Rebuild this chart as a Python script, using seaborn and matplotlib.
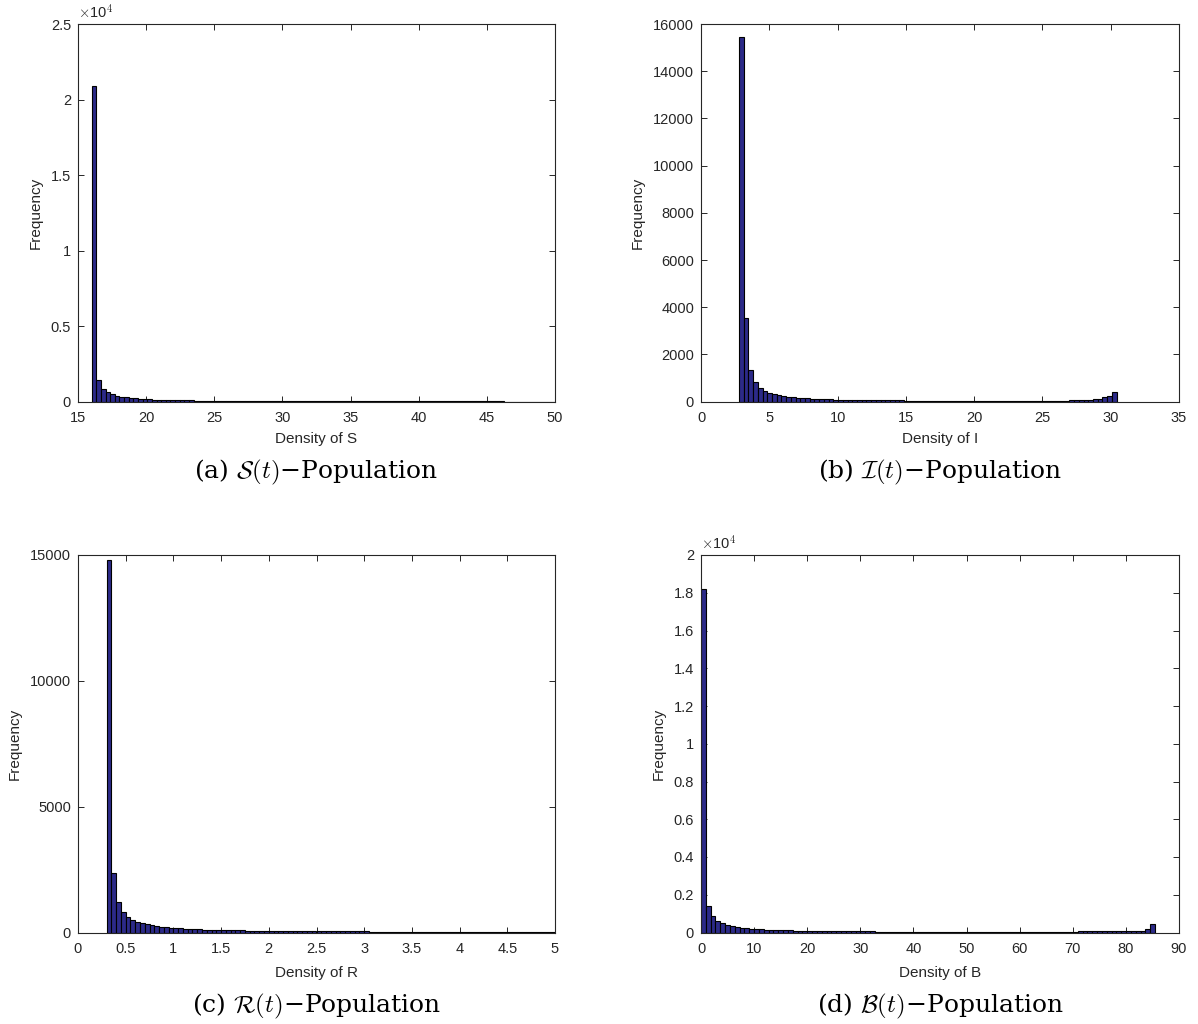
import numpy as np
import pandas as pd
import matplotlib
matplotlib.use("Agg")
import matplotlib.pyplot as plt
from matplotlib.ticker import FuncFormatter
import seaborn as sns

# ---------------- data (bin counts) ----------------
S_range = (16.0, 50.0)
S_counts = [20900, 1430, 830, 620, 490, 400, 335, 285, 248, 218,
            195, 175, 158, 144, 132, 122, 113, 105, 98, 92,
            86, 81, 77, 73, 69, 66, 63, 60, 57, 55,
            53, 51, 49, 47, 45, 44, 42, 41, 40, 38,
            37, 36, 35, 34, 33, 32, 31, 31, 30, 29,
            28, 28, 27, 26, 26, 25, 25, 24, 24, 23,
            23, 22, 22, 21, 21, 21, 20, 20, 19, 19,
            19, 18, 18, 18, 17, 17, 17, 16, 16, 16,
            16, 15, 15, 15, 15, 14, 14, 14, 14, 13,
            13, 13, 13, 13, 12, 12, 12, 12, 12, 11]

I_range = (2.78, 30.43)
I_counts = [15450, 3540, 1360, 830, 590, 455, 370, 312, 268, 233,
            205, 183, 165, 150, 137, 126, 117, 109, 102, 96,
            90, 85, 81, 77, 73, 70, 67, 64, 62, 60,
            58, 56, 54, 52, 51, 49, 48, 47, 46, 45,
            44, 43, 42, 41, 41, 40, 39, 39, 38, 38,
            37, 37, 37, 36, 36, 36, 36, 36, 36, 36,
            37, 37, 38, 38, 39, 40, 42, 44, 46, 49,
            53, 58, 65, 75, 88, 105, 135, 180, 230, 430]

R_range = (0.30, 5.30)
R_counts = [14800, 2365, 1210, 825, 610, 505, 425, 365, 318, 282,
            252, 228, 208, 191, 176, 163, 152, 142, 134, 126,
            119, 113, 107, 102, 97, 93, 89, 85, 82, 79,
            76, 73, 71, 68, 66, 64, 62, 60, 58, 57,
            55, 54, 52, 51, 50, 48, 47, 46, 45, 44,
            43, 42, 41, 40, 40, 39, 38, 37, 37, 36,
            35, 35, 34, 34, 33, 32, 32, 31, 31, 30,
            30, 30, 29, 29, 28, 28, 28, 27, 27, 26,
            26, 26, 25, 25, 25, 25, 24, 24, 24, 23,
            23, 23, 23, 22, 22, 22, 22, 21, 21, 21]

B_range = (0.0, 85.5)
B_counts = [18200, 1430, 850, 620, 500, 410, 345, 295, 258, 228,
            204, 184, 167, 153, 141, 131, 122, 114, 107, 101,
            95, 90, 86, 82, 78, 75, 72, 69, 66, 64,
            62, 60, 58, 56, 54, 53, 51, 50, 49, 48,
            47, 46, 45, 44, 43, 42, 42, 41, 40, 40,
            39, 39, 38, 38, 38, 37, 37, 37, 37, 37,
            37, 37, 37, 37, 37, 38, 38, 38, 39, 39,
            40, 41, 42, 43, 44, 46, 48, 50, 53, 56,
            58, 60, 62, 64, 66, 68, 70, 72, 75, 78,
            85, 105, 180, 445]

x_labels = ["Density of S", "Density of I", "Density of R", "Density of B"]
captions = ["(a) $\\mathcal{S}(t)$\u2212Population",
            "(b) $\\mathcal{I}(t)$\u2212Population",
            "(c) $\\mathcal{R}(t)$\u2212Population",
            "(d) $\\mathcal{B}(t)$\u2212Population"]
x_limits = [(15, 50), (0, 35), (0, 5), (0, 90)]
x_ticks = [[15, 20, 25, 30, 35, 40, 45, 50],
           [0, 5, 10, 15, 20, 25, 30, 35],
           [0, 0.5, 1, 1.5, 2, 2.5, 3, 3.5, 4, 4.5, 5],
           [0, 10, 20, 30, 40, 50, 60, 70, 80, 90]]
y_limits = [(0, 25000), (0, 16000), (0, 15000), (0, 20000)]
y_ticks = [[0, 5000, 10000, 15000, 20000, 25000],
           [0, 2000, 4000, 6000, 8000, 10000, 12000, 14000, 16000],
           [0, 5000, 10000, 15000],
           [0, 2000, 4000, 6000, 8000, 10000, 12000, 14000, 16000, 18000, 20000]]
y_scaled = [True, False, False, True]

# ---------------- style ----------------
sns.set_style("ticks")
plt.rcParams["font.family"] = ["Liberation Sans", "DejaVu Sans"]
plt.rcParams["mathtext.fontset"] = "cm"

BAR = "#2c2a88"
AXC = "#262626"

fig = plt.figure(figsize=(11.98, 10.24), dpi=100)
W, H = 1198.0, 1024.0
boxes = [(78, 24, 555, 401.7), (701, 24, 1179, 401.7),
         (78, 555, 555, 932.5), (701, 555, 1179, 932.5)]
xlabel_y = [439, 439, 973, 973]
cap_y = [472, 472, 1006, 1006]

datasets = [(S_range, S_counts), (I_range, I_counts),
            (R_range, R_counts), (B_range, B_counts)]

def fmt_scaled(v, pos):
    return "%g" % (v / 1e4)

for i, ((lo, hi), counts) in enumerate(datasets):
    x0, y0, x1, y1 = boxes[i]
    ax = fig.add_axes([x0 / W, 1 - y1 / H, (x1 - x0) / W, (y1 - y0) / H])
    counts = np.asarray(counts, dtype=float)
    n = len(counts)
    edges = np.linspace(lo, hi, n + 1)
    centers = 0.5 * (edges[:-1] + edges[1:])
    df = pd.DataFrame({"x": centers, "w": counts})
    sns.histplot(data=df, x="x", weights="w", bins=n, binrange=(lo, hi), ax=ax,
                 color=BAR, edgecolor="black", linewidth=0.8, alpha=1.0)
    ax.set_xlim(*x_limits[i])
    ax.set_ylim(*y_limits[i])
    ax.set_xticks(x_ticks[i])
    ax.set_yticks(y_ticks[i])
    ax.xaxis.set_major_formatter(FuncFormatter(lambda v, p: "%g" % v))
    if y_scaled[i]:
        ax.yaxis.set_major_formatter(FuncFormatter(fmt_scaled))
        ax.text(0.0, 1.0 + 3.0 / (y1 - y0), r"$\times$10$^{4}$", transform=ax.transAxes,
                ha="left", va="bottom", fontsize=10.5, color=AXC,
                family=["Liberation Sans", "DejaVu Sans"])
    else:
        ax.yaxis.set_major_formatter(FuncFormatter(lambda v, p: "%d" % v))
    ax.set_xlabel(x_labels[i], fontsize=11, color=AXC)
    ax.xaxis.label.set_verticalalignment("center")
    ax.xaxis.set_label_coords(0.5, -(xlabel_y[i] - y1) / (y1 - y0))
    ax.set_ylabel("Frequency", fontsize=11, color=AXC, labelpad=6)
    for sp in ax.spines.values():
        sp.set_visible(True)
        sp.set_color(AXC)
        sp.set_linewidth(0.8)
    ax.tick_params(direction="in", top=True, right=True, length=4,
                   width=0.7, colors=AXC, labelsize=10.5)
    ax.tick_params(axis="x", pad=7)
    ax.tick_params(axis="y", pad=5)
    ax.grid(False)
    fig.text((x0 + x1) / 2 / W, 1 - cap_y[i] / H, captions[i],
             ha="center", va="center", fontsize=18,
             family=["DejaVu Serif"], color="black")

fig.savefig("out.png", dpi=100)
